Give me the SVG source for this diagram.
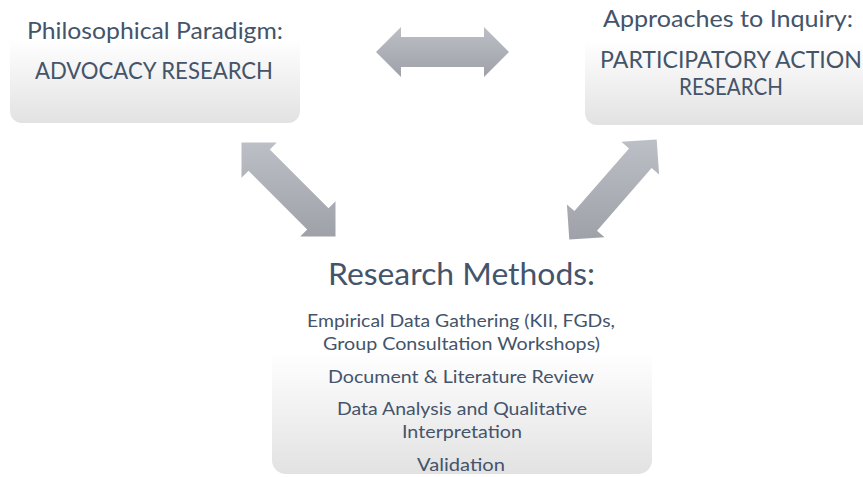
<svg xmlns="http://www.w3.org/2000/svg" width="863" height="477" viewBox="0 0 863 477">
<defs>
<linearGradient id="boxGrad" x1="0" y1="0" x2="0" y2="1">
<stop offset="0" stop-color="#ffffff"/>
<stop offset="0.3" stop-color="#ffffff"/>
<stop offset="1" stop-color="#e2e2e3"/>
</linearGradient>
<linearGradient id="arrowGrad" x1="0" y1="0" x2="0" y2="1">
<stop offset="0" stop-color="#bcbfc6"/>
<stop offset="1" stop-color="#9ea1a8"/>
</linearGradient>
</defs>
<style>
.box{fill:url(#boxGrad);}
.arrow{fill:url(#arrowGrad);}
text{font-family:Lato,"Open Sans","Liberation Sans",sans-serif;fill:#44546a;text-anchor:middle;}
.title{font-size:23px;}
.head{font-size:30px;}
.body{font-size:18px;}
</style>
<rect width="863" height="477" fill="#ffffff"/>
<g id="connectors">
<polygon class="arrow" points="376,52 401,27 401,37 484,37 484,27 509,52 484,77 484,67 401,67 401,77"/>
<polygon class="arrow" points="241.5,142.5 276.8,142.5 269.8,149.5 328.5,208.2 335.5,201.2 335.5,236.5 300.2,236.5 307.2,229.5 248.5,170.8 241.5,177.8"/>
<polygon class="arrow" points="569.3,239.6 566.9,204.4 574.4,210.9 629.0,148.4 621.4,141.8 656.7,139.4 659.1,174.6 651.6,168.1 597.0,230.7 604.6,237.2"/>
</g>
<g id="node-paradigm">
<rect class="box" x="10" y="3" width="290" height="120" rx="12" ry="12"/>
<text class="title" x="155" y="39" textLength="256" lengthAdjust="spacingAndGlyphs">Philosophical Paradigm:</text>
<text class="title" x="154" y="79" textLength="238" lengthAdjust="spacingAndGlyphs">ADVOCACY RESEARCH</text>
</g>
<g id="node-inquiry">
<rect class="box" x="585" y="5" width="292" height="120" rx="12" ry="12"/>
<text class="title" x="728" y="27" textLength="250" lengthAdjust="spacingAndGlyphs">Approaches to Inquiry:</text>
<text class="title" x="731" y="68" textLength="262" lengthAdjust="spacingAndGlyphs">PARTICIPATORY ACTION</text>
<text class="title" x="731" y="95" textLength="104" lengthAdjust="spacingAndGlyphs">RESEARCH</text>
</g>
<g id="node-methods">
<rect class="box" x="272" y="300" width="380" height="174" rx="14" ry="14"/>
<text class="head" x="461.5" y="285" textLength="267" lengthAdjust="spacingAndGlyphs">Research Methods:</text>
<text class="body" x="461" y="327" textLength="308" lengthAdjust="spacingAndGlyphs">Empirical Data Gathering (KII, FGDs,</text>
<text class="body" x="461.5" y="350" textLength="277" lengthAdjust="spacingAndGlyphs">Group Consultation Workshops)</text>
<text class="body" x="461" y="383" textLength="266" lengthAdjust="spacingAndGlyphs">Document &amp; Literature Review</text>
<text class="body" x="462" y="415" textLength="250" lengthAdjust="spacingAndGlyphs">Data Analysis and Qualitative</text>
<text class="body" x="462" y="438" textLength="120" lengthAdjust="spacingAndGlyphs">Interpretation</text>
<text class="body" x="461" y="471" textLength="88" lengthAdjust="spacingAndGlyphs">Validation</text>
</g>
</svg>
